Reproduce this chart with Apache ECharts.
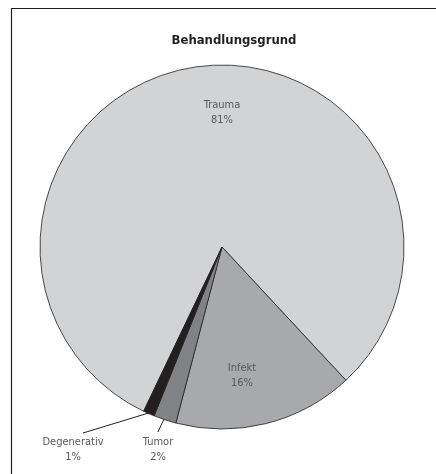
<!DOCTYPE html>
<html>
<head>
<meta charset="utf-8">
<script src="https://cdn.jsdelivr.net/npm/echarts@6/dist/echarts.min.js"></script>
<style>
  html, body { margin: 0; padding: 0; background: #ffffff; }
  #chart { width: 436px; height: 474px; }
</style>
</head>
<body>
<div id="chart"></div>
<script>
// Data
var categories = ['Trauma', 'Infekt', 'Tumor', 'Degenerativ'];
var values = [81, 16, 2, 1];
var colors = ['#d1d3d4', '#a7a9ac', '#808285', '#231f20'];

// Layout (placement only, not data)
var CX = 222, CY = 247, R = 182, START = 244.5;
var labelX = [222, 242, 158, 73];
var labelY = [113, 376, 450, 450];
var outsideLabel = [false, false, true, true];
var lineStartFrac = [0, 0, 0.945, 0.995];
var lineEndDx = [0, 0, 0, 10];
var lineEndDy = [0, 0, -18, -17];

var FONT = "'Liberation Sans Narrow', 'DejaVu Sans Condensed', 'Liberation Sans', sans-serif";

var total = values.reduce(function (a, b) { return a + b; }, 0);
function midAngleRad(i) {
  var cum = 0;
  for (var k = 0; k < i; k++) cum += values[k];
  var deg = START - 360 * (cum + values[i] / 2) / total;
  return deg * Math.PI / 180;
}

var chart = echarts.init(document.getElementById('chart'), null, { renderer: 'canvas' });

var data = categories.map(function (name, i) {
  return {
    name: name,
    value: values[i],
    itemStyle: { color: colors[i] },
    label: { position: outsideLabel[i] ? 'outside' : 'inside' },
    labelLine: { show: outsideLabel[i] }
  };
});

chart.setOption({
  animation: false,
  backgroundColor: '#ffffff',
  title: {
    text: 'Behandlungsgrund',
    left: 229,
    top: 29,
    textAlign: 'center',
    textStyle: { fontFamily: FONT, fontSize: 13, fontWeight: 'bold', color: '#231f20' }
  },
  graphic: [{
    type: 'rect',
    shape: { x: 11.5, y: 8.5, width: 600, height: 600 },
    style: { fill: null, stroke: '#231f20', lineWidth: 1.2 },
    silent: true
  }],
  series: [{
    type: 'pie',
    center: [CX, CY],
    radius: R,
    startAngle: START,
    clockwise: true,
    avoidLabelOverlap: false,
    data: data,
    itemStyle: { borderColor: '#231f20', borderWidth: 0.8 },
    label: {
      show: true,
      formatter: '{b}\n{c}%',
      fontFamily: FONT,
      fontSize: 11,
      lineHeight: 15,
      color: '#58595b',
      align: 'center'
    },
    labelLine: {
      length: 15,
      length2: 0,
      smooth: false,
      lineStyle: { color: '#231f20', width: 1 }
    },
    labelLayout: function (params) {
      var i = params.dataIndex;
      var out = {
        x: labelX[i],
        y: labelY[i],
        align: 'center',
        verticalAlign: 'middle'
      };
      if (outsideLabel[i]) {
        var a = midAngleRad(i);
        var r = R * lineStartFrac[i];
        var sx = CX + r * Math.cos(a), sy = CY - r * Math.sin(a);
        var ex = labelX[i] + lineEndDx[i], ey = labelY[i] + lineEndDy[i];
        out.labelLinePoints = [[sx, sy], [(sx + ex) / 2, (sy + ey) / 2], [ex, ey]];
      }
      return out;
    }
  }]
});
</script>
</body>
</html>
